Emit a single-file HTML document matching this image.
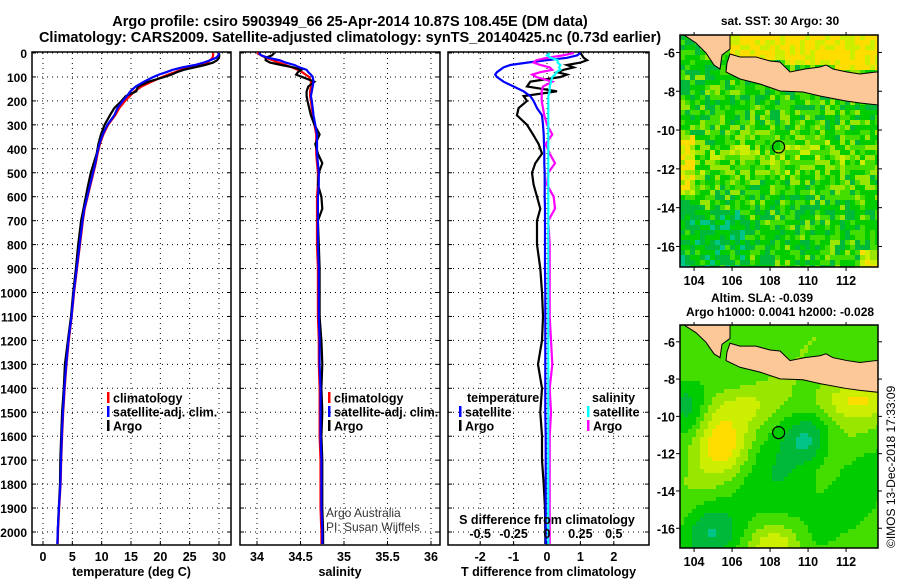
<!DOCTYPE html>
<html><head><meta charset="utf-8"><style>
body{margin:0;background:#fff;}
svg{display:block;font-family:"Liberation Sans",sans-serif;font-weight:bold;}
</style></head><body>
<svg id="chart" width="900" height="580" viewBox="0 0 900 580">
<text x="350" y="26" text-anchor="middle" font-size="14.5">Argo profile: csiro 5903949_66 25-Apr-2014 10.87S 108.45E (DM data)</text>
<text x="350" y="42" text-anchor="middle" font-size="14.5">Climatology: CARS2009. Satellite-adjusted climatology: synTS_20140425.nc (0.73d earlier)</text>
<g id="p1"></g>
<g id="p2"></g>
<g id="p3"></g>
<g id="m1"></g>
<g id="m2"></g>
<text x="780" y="25" text-anchor="middle" font-size="12">sat. SST: 30 Argo: 30</text>
<text x="762" y="302" text-anchor="middle" font-size="12">Altim. SLA: -0.039</text>
<text x="780" y="316" text-anchor="middle" font-size="12">Argo h1000: 0.0041 h2000: -0.028</text>
<text transform="translate(895,548) rotate(-90)" font-size="12" font-weight="normal">©IMOS 13-Dec-2018 17:33:09</text>
</svg>
<script>
const depths=[0,10,20,30,40,50,60,70,80,90,100,120,140,160,180,200,230,260,300,340,380,420,460,500,550,600,650,700,800,900,1000,1100,1200,1300,1400,1500,1600,1700,1800,1900,2000,2050];
const tempClim=[29.0,29.0,28.9,28.5,28.0,27.0,25.0,23.5,22.5,21.3,20.3,18.5,16.8,15.6,14.8,14.0,13.0,12.3,11.1,10.3,9.7,9.3,9.0,8.6,8.1,7.6,7.1,6.8,6.3,5.8,5.3,4.9,4.4,4.0,3.7,3.45,3.25,3.1,3.0,2.75,2.55,2.5];
const tDiffArgo=[1.0,1.05,1.1,1.2,1.0,0.6,0.8,0.5,0.3,0.6,0.4,-0.5,-0.6,0.3,-0.7,-0.6,-0.85,-0.9,-0.6,-0.42,-0.25,-0.15,-0.35,-0.45,-0.4,-0.3,-0.2,-0.3,-0.3,-0.2,-0.15,-0.12,-0.15,-0.27,-0.15,-0.2,-0.15,-0.15,-0.1,-0.06,-0.05,-0.05];
const tDiffSat=[1.0,0.9,0.6,0.0,-0.6,-1.1,-1.3,-1.4,-1.5,-1.55,-1.5,-1.3,-1.0,-0.7,-0.5,-0.4,-0.3,-0.15,-0.12,-0.1,-0.09,-0.08,-0.08,-0.07,-0.07,-0.07,-0.06,-0.06,-0.06,-0.06,-0.05,-0.05,-0.05,-0.05,-0.05,-0.05,-0.04,-0.04,-0.04,-0.04,-0.04,-0.04];
const salClim=[34.0,34.05,34.1,34.18,34.25,34.33,34.4,34.47,34.52,34.56,34.6,34.62,34.62,34.61,34.61,34.62,34.63,34.64,34.66,34.68,34.68,34.68,34.69,34.7,34.7,34.69,34.69,34.69,34.69,34.7,34.7,34.7,34.71,34.71,34.72,34.72,34.72,34.73,34.73,34.73,34.74,34.74];
const sDiffArgo=[0.2,0.12,0.0,-0.08,-0.1,-0.05,0.02,0.04,-0.05,-0.11,-0.08,0.04,-0.03,-0.04,-0.04,-0.04,-0.03,-0.02,0.0,0.04,-0.01,0.02,0.06,0.01,0.0,0.05,0.06,0.01,0.02,0.02,0.02,0.02,0.03,0.04,0.02,0.03,0.02,0.02,0.02,0.02,0.02,0.02];
const sDiffSat=[0.02,0.0,0.03,0.08,0.08,0.1,0.09,0.1,0.07,0.06,0.04,0.03,0.02,0.02,0.01,0.01,0.01,0.01,0.01,0.01,0.01,0.01,0.01,0.01,0.01,0.01,0.01,0.01,0.01,0.01,0.01,0.01,0.01,0.01,0.01,0.01,0.01,0.01,0.01,0.01,0.01,0.01];
const depthTicks=[0,100,200,300,400,500,600,700,800,900,1000,1100,1200,1300,1400,1500,1600,1700,1800,1900,2000];
const tempTicks=[0,5,10,15,20,25,30];
const salTicks=[34,34.5,35,35.5,36];
const tdTicks=[-2,-1,0,1,2];
const sdTicks=[-0.5,-0.25,0,0.25,0.5];
const sdTickLabels=["-0.5","-0.25","0","0.25","0.5"];
const lonTicks=[104,106,108,110,112];
const latTicks=[-6,-8,-10,-12,-14,-16];
const argoLon=108.45, argoLat=-10.87;

const NS='http://www.w3.org/2000/svg';
function mk(parent,tag,attrs,name){const e=document.createElementNS(NS,tag);for(const k in attrs)e.setAttribute(k,attrs[k]);


parent.appendChild(e);return e;}
function txt(parent,x,y,s,size,anchor,name,extra){const t=mk(parent,'text',Object.assign({x:x,y:y,'font-size':size,'text-anchor':anchor||'start'},extra||{}),name);t.textContent=s;return t;}
const Y=d=>53+d*0.2395;
const TOP=53,BOT=545;

function panel(g,x0,x1,xs,ticks,labels,title,name){
  ticks.forEach(v=>{mk(g,'line',{x1:xs(v),x2:xs(v),y1:TOP,y2:BOT,stroke:'#000','stroke-width':1,'stroke-dasharray':'1,4'},name+'-vgrid');
    mk(g,'line',{x1:xs(v),x2:xs(v),y1:BOT,y2:BOT-4,stroke:'#000'},name+'-xtick');});
  depthTicks.forEach(d=>{mk(g,'line',{x1:x0,x2:x1,y1:Y(d),y2:Y(d),stroke:'#000','stroke-width':1,'stroke-dasharray':'1,4'},name+'-hgrid');
    mk(g,'line',{x1:x0,x2:x0+4,y1:Y(d),y2:Y(d),stroke:'#000'},name+'-ytick');
    mk(g,'line',{x1:x1,x2:x1-4,y1:Y(d),y2:Y(d),stroke:'#000'},name+'-ytick');});
  mk(g,'rect',{x:x0,y:TOP-1,width:x1-x0,height:BOT-TOP+1,fill:'none',stroke:'#000','stroke-width':1.5},name+'-frame');
  ticks.forEach((v,i)=>txt(g,xs(v),561,labels[i],12.5,'middle',name+'-xlabel'));
  txt(g,(x0+x1)/2,576,title,12.5,'middle',name+'-xtitle');
}
function line(g,xv,xs,color,name,w){
  const pts=depths.map((d,i)=>xs(xv[i]).toFixed(1)+','+Y(d).toFixed(1)).join(' ');
  mk(g,'polyline',{points:pts,fill:'none',stroke:color,'stroke-width':w||2.2,'stroke-linejoin':'miter'},name);
}
function legendBar(g,x,y,color,label,name){
  mk(g,'rect',{x:x,y:y-6,width:2.5,height:11,fill:color},name+'-swatch');
  txt(g,x+6,y+4.5,label,12.5,'start',name);
}
const p1=document.getElementById('p1');
depthTicks.forEach(d=>txt(p1,27,Y(d)+5,String(d),12,'end','depth-label'));

const xT=v=>43+v*(219-43)/30;
panel(p1,32,231,xT,tempTicks,tempTicks.map(String),'temperature (deg C)','temp');
line(p1,tempClim,xT,'#f00','temp-climatology-line');
line(p1,tempClim.map((v,i)=>v+tDiffArgo[i]),xT,'#000','temp-argo-line');
line(p1,tempClim.map((v,i)=>v+tDiffSat[i]),xT,'#00f','temp-satellite-line');
legendBar(p1,107,398,'#f00','climatology','legend-climatology');
legendBar(p1,107,412,'#00f','satellite-adj. clim.','legend-satellite');
legendBar(p1,107,426,'#000','Argo','legend-argo');

const p2=document.getElementById('p2');
const xS=v=>257+(v-34)*87;
panel(p2,240,440,xS,salTicks,salTicks.map(String),'salinity','sal');
line(p2,salClim,xS,'#f00','sal-climatology-line');
line(p2,salClim.map((v,i)=>v+sDiffArgo[i]),xS,'#000','sal-argo-line');
line(p2,salClim.map((v,i)=>v+sDiffSat[i]),xS,'#00f','sal-satellite-line');
legendBar(p2,328,398,'#f00','climatology','legend-sal-climatology');
legendBar(p2,328,412,'#00f','satellite-adj. clim.','legend-sal-satellite');
legendBar(p2,328,426,'#000','Argo','legend-sal-argo');
txt(p2,326,517,'Argo Australia',12,'start','credit-argo-australia',{'font-weight':'normal',fill:'#333'});
txt(p2,326,531,'PI: Susan Wijffels',12,'start','credit-pi',{'font-weight':'normal',fill:'#333'});

const p3=document.getElementById('p3');
const xTD=v=>547+v*33.4;
const xSD=v=>547+v*133.6;
panel(p3,448,649,xTD,tdTicks,tdTicks.map(String),'T difference from climatology','tdiff');
line(p3,tDiffArgo,xTD,'#000','tdiff-argo-line');
line(p3,tDiffSat,xTD,'#00f','tdiff-satellite-line');
line(p3,sDiffArgo,xSD,'#f0f','sdiff-argo-line');
line(p3,sDiffSat,xSD,'#0ff','sdiff-satellite-line');
txt(p3,547,524,'S difference from climatology',12.5,'middle','sdiff-axis-title');
sdTicks.forEach((v,i)=>txt(p3,xSD(v),538,sdTickLabels[i],12.5,'middle','sdiff-xlabel'));
txt(p3,467,402,'temperature',12.5,'start','legend-temperature-heading');
legendBar(p3,459,412,'#00f','satellite','legend-t-satellite');
legendBar(p3,459,426,'#000','Argo','legend-t-argo');
txt(p3,592,402,'salinity',12.5,'start','legend-salinity-heading');
legendBar(p3,587,412,'#0ff','satellite','legend-s-satellite');
legendBar(p3,587,426,'#f0f','Argo','legend-s-argo');

// maps (decorative fields)
const java=[[50,19],[60,22],[76,22],[90,26],[100,27],[110,37],[125,34],[140,32],[146,30],[153,34],[167,37],[180,39],[196,37],[198,37],[198,70],[180,68],[166,66],[140,61],[123,57],[100,56],[80,49],[60,44],[46,37],[47,28]];
const sumatra=[[4,0],[50,0],[50,14],[42,20],[40,34],[34,30],[26,18],[16,8]];
function hash(i,j){let h=Math.sin(i*127.1+j*311.7)*43758.5453;return h-Math.floor(h);}
const G=(i,j,ci,cj,si,sj)=>Math.exp(-(((i-ci)**2)/si+((j-cj)**2)/sj));
function colorOf(v){return v<0.15?'#00c488':v<0.3?'#00b83a':v<0.44?'#00cc00':v<0.56?'#44dd00':v<0.68?'#99e600':v<0.8?'#ccee00':'#ffdd00';}
function map(g,ox,oy,H,speckle,name){
  const W=198,c=speckle?5:4,sy=H/232;
  for(let j=0;j<H;j+=c)for(let i=0;i<W;i+=c){
    const jj=j/sy;let v;
    if(speckle){
      const sea=jj<20+(i-50)*0.1&&i>45;
      v=0.4+0.15*G(i,jj,100,120,20000,900)+(i<12&&jj>95&&jj<160?0.3:0)+(i>175&&jj>210?0.35:0)-(jj>170&&i<70?0.12:0)+(hash(i,j)-0.5)*0.4;
      if(sea)v=0.85+(hash(j,i)-0.5)*0.3;
    } else {
      v=0.5+0.35*G(i,jj,38,120,700,1200)+0.3*G(i,jj,95,228,600,400)+0.3*G(i,jj,170,75,1500,500)+0.15*G(i,jj,60,80,1500,400)
        -0.3*G(i,jj,125,118,400,500)-0.3*G(i,jj,30,215,800,800)-0.25*G(i,jj,5,80,300,600)-0.2*G(i,jj,105,165,1200,2500)-0.12*G(i,jj,175,170,600,1500)+0.06*Math.sin(i/18+jj/23);
    }
    mk(g,'rect',{x:ox+i,y:oy+j,width:Math.min(c,W-i),height:Math.min(c,H-j),fill:colorOf(v)},name+'-cell');
  }
  [java,sumatra].forEach((p,k)=>mk(g,'polygon',{points:p.map(q=>(ox+q[0])+','+(oy+q[1]*sy)).join(' '),fill:'#fcc898',stroke:'#000','stroke-width':1},name+(k?'-sumatra':'-java')));
  const lx=v=>ox+(v-103.26)*19;
  const ly=v=>oy+(-5.1-v)*19.4*sy;
  mk(g,'rect',{x:ox,y:oy,width:W,height:H,fill:'none',stroke:'#000','stroke-width':1.5},name+'-frame');
  lonTicks.forEach(v=>{mk(g,'line',{x1:lx(v),x2:lx(v),y1:oy+H,y2:oy+H+4,stroke:'#000'},name+'-lon-tick');
    mk(g,'line',{x1:lx(v),x2:lx(v),y1:oy,y2:oy-3,stroke:'#000'},name+'-lon-tick');
    txt(g,lx(v),oy+H+18,String(v),12.5,'middle',name+'-lon-label');});
  latTicks.forEach(v=>{mk(g,'line',{x1:ox,x2:ox-4,y1:ly(v),y2:ly(v),stroke:'#000'},name+'-lat-tick');
    mk(g,'line',{x1:ox+W,x2:ox+W+4,y1:ly(v),y2:ly(v),stroke:'#000'},name+'-lat-tick');
    txt(g,ox-5,ly(v)+5,String(v),12.5,'end',name+'-lat-label');});
  mk(g,'circle',{cx:lx(argoLon),cy:ly(argoLat),r:6,fill:'none',stroke:'#000','stroke-width':1.2},name+'-argo-marker');
}
map(document.getElementById('m1'),680,35,232,true,'sst-map');
map(document.getElementById('m2'),680,325,223,false,'sla-map');
</script>
</body></html>
